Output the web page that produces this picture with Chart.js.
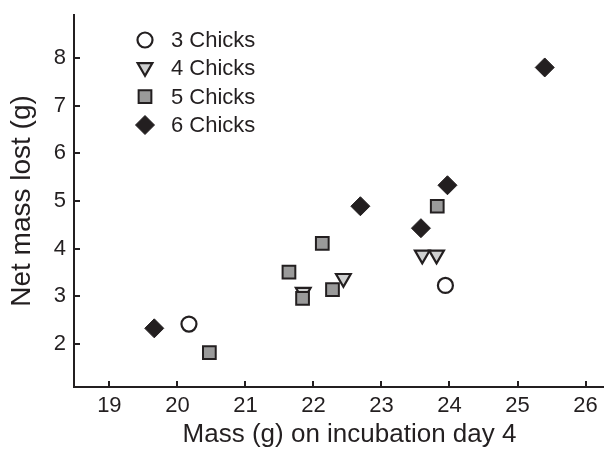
<!DOCTYPE html>
<html>
<head>
<meta charset="utf-8">
<script src="https://cdn.jsdelivr.net/npm/chart.js@4/dist/chart.umd.min.js"></script>
<style>
  html, body { margin: 0; padding: 0; background: #fff; overflow: hidden; }
</style>
</head>
<body>
<!-- the original figure is cut off on the right, so the canvas runs a little past the window -->
<canvas id="massChart" width="626" height="451"></canvas>
<script>
// values
const threeX = [20.17, 23.94];
const threeY = [2.42, 3.23];
const fourX = [21.85, 22.44, 23.60, 23.81];
const fourY = [3.09, 3.38, 3.87, 3.87];
const fiveX = [20.47, 21.64, 21.84, 22.13, 22.28, 23.82];
const fiveY = [1.82, 3.51, 2.96, 4.11, 3.14, 4.89];
const sixX = [19.66, 22.69, 23.58, 23.97, 25.40];
const sixY = [2.33, 4.89, 4.43, 5.33, 7.80];

const seriesLabels = ["3 Chicks", "4 Chicks", "5 Chicks", "6 Chicks"];
const xTicks = [19, 20, 21, 22, 23, 24, 25, 26];
const yTicks = [2, 3, 4, 5, 6, 7, 8];

const ink = "#231f20";
const font = "'Liberation Sans', Arial, Helvetica, sans-serif";

const toPoints = (xs, ys) => xs.map((x, i) => ({ x: x, y: ys[i] }));

const styles = [
  { pointStyle: "circle", radius: 7.5, rotation: 0, bg: "#ffffff", borderWidth: 2.2 },
  { pointStyle: "triangle", radius: 8.5, rotation: 180, bg: "#cfd0d0", borderWidth: 2.2 },
  { pointStyle: "rect", radius: 9, rotation: 0, bg: "#9a9a9a", borderWidth: 2 },
  { pointStyle: "rectRot", radius: 9.5, rotation: 0, bg: ink, borderWidth: 1 },
];

const dataSets = [toPoints(threeX, threeY), toPoints(fourX, fourY), toPoints(fiveX, fiveY), toPoints(sixX, sixY)];
const drawOrder = [3, 2, 1, 4];

// legend drawn inside the plot, top left
const legendPlugin = {
  id: "cornerLegend",
  afterDraw(chart) {
    const ctx = chart.ctx;
    const rowY = [40, 68.3, 96.7, 125];
    ctx.save();
    seriesLabels.forEach((label, i) => {
      const s = styles[i];
      ctx.fillStyle = s.bg;
      ctx.strokeStyle = ink;
      ctx.lineWidth = s.borderWidth;
      Chart.helpers.drawPoint(ctx, {
        pointStyle: s.pointStyle, radius: s.radius, rotation: s.rotation, borderWidth: s.borderWidth
      }, 145, i === 1 ? rowY[i] - 1 : rowY[i]);
      ctx.fillStyle = ink;
      ctx.font = "22px " + font;
      ctx.textAlign = "left";
      ctx.textBaseline = "middle";
      ctx.fillText(label, 171, rowY[i] + 1);
    });
    ctx.restore();
  }
};

// tick marks point inwards
const inwardTicks = {
  id: "inwardTicks",
  afterDatasetsDraw(chart) {
    const ctx = chart.ctx;
    const area = chart.chartArea;
    const xs = chart.scales.x, ys = chart.scales.y;
    ctx.save();
    ctx.strokeStyle = ink;
    ctx.lineWidth = 2;
    ctx.beginPath();
    xTicks.forEach(v => {
      const px = Math.round(xs.getPixelForValue(v));
      ctx.moveTo(px, area.bottom);
      ctx.lineTo(px, area.bottom - 6);
    });
    yTicks.forEach(v => {
      const py = Math.round(ys.getPixelForValue(v));
      ctx.moveTo(area.left, py);
      ctx.lineTo(area.left + 6, py);
    });
    ctx.stroke();
    ctx.restore();
  }
};

new Chart(document.getElementById("massChart"), {
  type: "scatter",
  data: {
    datasets: dataSets.map((pts, i) => ({
      label: seriesLabels[i],
      data: pts,
      order: drawOrder[i],
      pointStyle: styles[i].pointStyle,
      pointRadius: styles[i].radius,
      pointHoverRadius: styles[i].radius,
      rotation: styles[i].rotation,
      backgroundColor: styles[i].bg,
      borderColor: ink,
      borderWidth: styles[i].borderWidth,
    })),
  },
  options: {
    responsive: false,
    animation: false,
    layout: { autoPadding: false, padding: { top: 15, right: 1, left: 0, bottom: 0 } },
    plugins: {
      legend: { display: false },
      tooltip: { enabled: false },
    },
    scales: {
      x: {
        type: "linear",
        min: 18.48,
        max: 26.58,
        afterBuildTicks: (scale) => { scale.ticks = xTicks.map(v => ({ value: v })); },
        afterFit: (scale) => { scale.height = 64; scale.paddingLeft = 0; scale.paddingRight = 0; },
        grid: { display: false, drawTicks: false },
        border: { display: true, color: ink, width: 2 },
        ticks: { padding: 6, color: ink, font: { family: font, size: 22 } },
        title: {
          display: true,
          text: "Mass (g) on incubation day 4",
          color: ink,
          font: { family: font, size: 26 },
          padding: { top: 0, bottom: 1 },
        },
      },
      y: {
        type: "linear",
        min: 1.1,
        max: 8.9,
        afterBuildTicks: (scale) => { scale.ticks = yTicks.map(v => ({ value: v })); },
        afterFit: (scale) => { scale.width = 74; scale.paddingTop = 0; scale.paddingBottom = 0; },
        grid: { display: false, drawTicks: false },
        border: { display: true, color: ink, width: 2 },
        ticks: { padding: 8, color: ink, font: { family: font, size: 22 } },
        title: {
          display: true,
          text: "Net mass lost (g)",
          color: ink,
          font: { family: font, size: 28 },
          padding: { top: 5, bottom: 0 },
        },
      },
    },
  },
  plugins: [inwardTicks, legendPlugin],
});
</script>
</body>
</html>
